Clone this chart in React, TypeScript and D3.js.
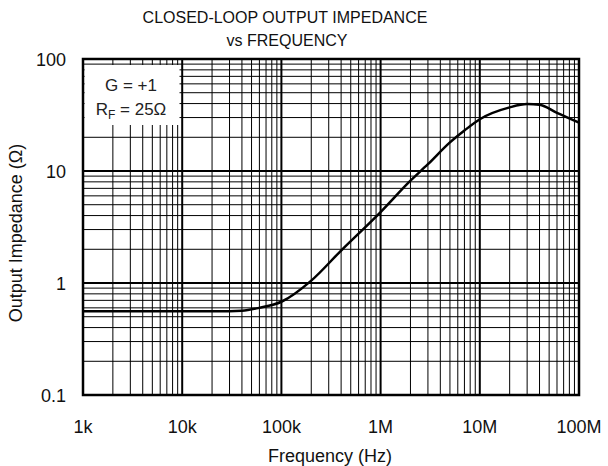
import { line, curveMonotoneX, scaleLog } from "d3";

const freqs = [1e3, 1e4, 3e4, 4e4, 6e4, 1e5, 2e5, 4e5, 1e6, 2e6, 3e6, 5e6, 7e6, 1e7, 2e7, 3e7, 4e7, 6e7, 1e8];
const impedance = [0.56, 0.56, 0.56, 0.565, 0.6, 0.68, 1.05, 1.95, 4.3, 8.2, 11.5, 18, 23, 29, 37, 39.6, 39, 33, 27];

const xDecades = [1e3, 1e4, 1e5, 1e6, 1e7, 1e8];
const xTickLabels = ["1k", "10k", "100k", "1M", "10M", "100M"];
const yDecades = [0.1, 1, 10, 100];
const yTickLabels = ["0.1", "1", "10", "100"];

export default function App() {
  const width = 608;
  const height = 466;
  const left = 83;
  const right = 579;
  const top = 59;
  const bottom = 395;
  const font = "'Liberation Sans', Arial, sans-serif";

  const x = scaleLog().domain([1e3, 1e8]).range([left, right]);
  const y = scaleLog().domain([0.1, 100]).range([bottom, top]);

  const isDecade = (v: number) => Math.abs(Math.log10(v) - Math.round(Math.log10(v))) < 1e-6;
  const xMinor = x.ticks().filter((v) => !isDecade(v));
  const yMinor = y.ticks().filter((v) => !isDecade(v));

  const pts = freqs.map((f, i) => [f, impedance[i]] as [number, number]);
  const path = line<[number, number]>()
    .x((d) => x(d[0]))
    .y((d) => y(d[1]))
    .curve(curveMonotoneX)(pts);

  return (
    <svg
      width={width}
      height={height}
      style={{ position: "absolute", left: 0, top: 0, background: "#fff" }}
      fontFamily={font}
    >
      <text x="285" y="23" textAnchor="middle" fontSize="16" fill="#111">
        CLOSED-LOOP OUTPUT IMPEDANCE
      </text>
      <text x="287" y="46" textAnchor="middle" fontSize="16" fill="#111">
        vs FREQUENCY
      </text>

      {/* minor grid */}
      {xMinor.map((v) => (
        <line key={`xm${v}`} x1={x(v)} x2={x(v)} y1={top} y2={bottom} stroke="#000" strokeWidth="1" />
      ))}
      {yMinor.map((v) => (
        <line key={`ym${v}`} x1={left} x2={right} y1={y(v)} y2={y(v)} stroke="#000" strokeWidth="1" />
      ))}
      {/* decade grid */}
      {xDecades.map((v) => (
        <line key={`xd${v}`} x1={x(v)} x2={x(v)} y1={top} y2={bottom} stroke="#000" strokeWidth="2" />
      ))}
      {yDecades.map((v) => (
        <line key={`yd${v}`} x1={left} x2={right} y1={y(v)} y2={y(v)} stroke="#000" strokeWidth="2" />
      ))}

      {/* annotation box */}
      <rect x={left + 1.5} y="65" width="95" height="60" fill="#fff" />
      <text x="131" y="91" textAnchor="middle" fontSize="17" fill="#222">
        G = +1
      </text>
      <text x="131" y="115" textAnchor="middle" fontSize="17" fill="#222">
        R<tspan fontSize="12" dy="4">F</tspan>
        <tspan dy="-4"> = 25Ω</tspan>
      </text>

      <rect x={left} y={top} width={right - left} height={bottom - top} fill="none" stroke="#000" strokeWidth="2.5" />

      <path d={path ?? ""} fill="none" stroke="#000" strokeWidth="2.5" />

      {xDecades.map((v, i) => (
        <text key={`xl${v}`} x={x(v)} y="433" textAnchor="middle" fontSize="18" fill="#111">
          {xTickLabels[i]}
        </text>
      ))}
      {yDecades.map((v, i) => (
        <text key={`yl${v}`} x="66" y={y(v) + 6.5} textAnchor="end" fontSize="18" fill="#111">
          {yTickLabels[i]}
        </text>
      ))}

      <text x="330" y="462" textAnchor="middle" fontSize="18" fill="#111">
        Frequency (Hz)
      </text>
      <text
        transform="translate(22, 233) rotate(-90)"
        textAnchor="middle"
        fontSize="18"
        fill="#111"
      >
        Output Impedance (Ω)
      </text>
    </svg>
  );
}
